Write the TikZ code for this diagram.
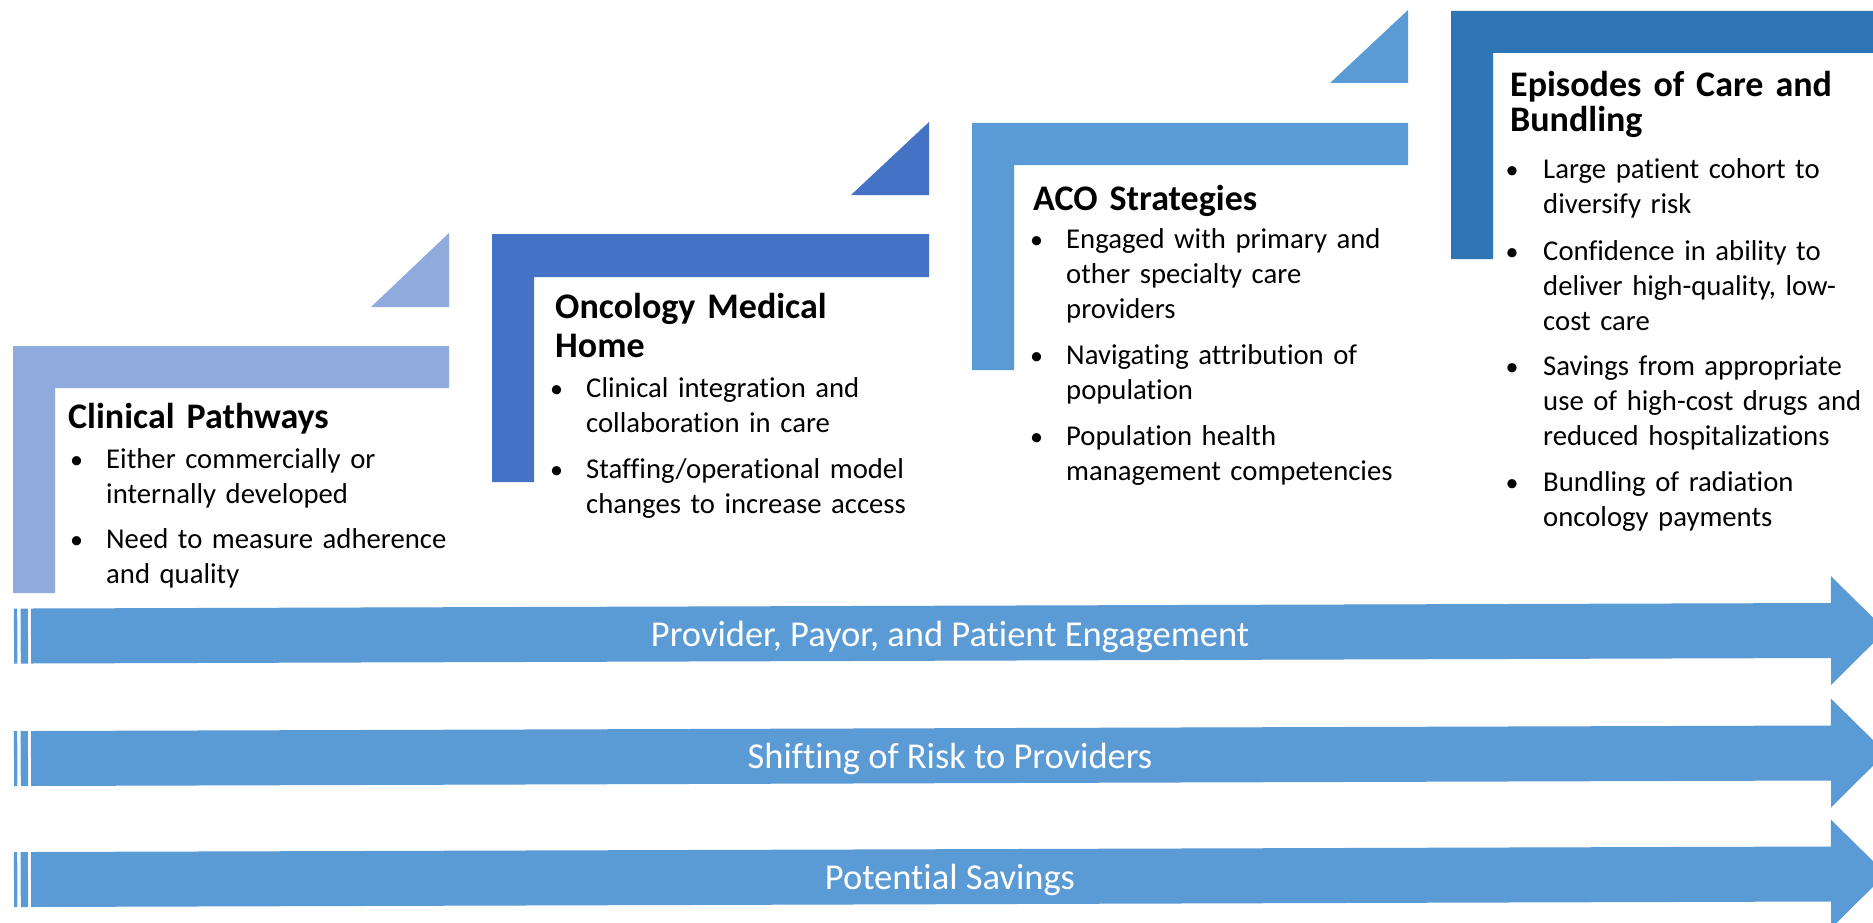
\documentclass[tikz,border=0pt]{standalone}
\usepackage{fontspec}
\setmainfont{Carlito}[Ligatures={NoCommon,NoContextual,NoRequired},Contextuals=NoAlternate]
\definecolor{cpath}{HTML}{8FAADC}
\definecolor{onco}{HTML}{4472C4}
\definecolor{aco}{HTML}{5B9BD5}
\definecolor{epis}{HTML}{2E75B6}
\definecolor{arr}{HTML}{5B9BD5}
\tikzset{
  body/.style={anchor=base west, inner sep=0pt, align=left, text width=420pt, font=\fontsize{28.7}{35}\selectfont},
  bul/.style={anchor=base, inner sep=0pt, font=\fontsize{26}{35}\selectfont},
  ttl/.style={anchor=base west, inner sep=0pt, align=left, text width=420pt, font=\fontsize{36}{39}\selectfont\bfseries},
  lab/.style={anchor=base, inner sep=0pt, text=white, font=\fontsize{36.5}{40}\selectfont},
}
\newcommand\myarrow[3]{%
  \begin{scope}[rotate around={0.175:(31,#1)}]
    \fill[arr] (14,#1-27.5) rectangle (17.3,#1+27.5);
    \fill[arr] (20.7,#1-27.5) rectangle (28,#1+27.5);
    \fill[arr] (31,#1-27.5) -- (1831,#1-27.5) -- (1831,#1-54.5) -- (1886,#1)
       -- (1831,#1+54.5) -- (1831,#1+27.5) -- (31,#1+27.5) -- cycle;
    \node[lab] (#2) at (950,#1+13) {#3};
  \end{scope}}
\begin{document}
\begin{tikzpicture}[x=1pt,y=-1pt]
\useasboundingbox (0,0) rectangle (1873,923);
\clip (0,0) rectangle (1873,923);
\fill[white] (0,0) rectangle (1873,923);

% Clinical Pathways
\fill[cpath] (13,346) -- (449,346) -- (449,388) -- (55,388) -- (55,593) -- (13,593) -- cycle;
\fill[cpath] (371,307) -- (449,307) -- (449,233) -- cycle;
\node[ttl] (t1) at (68,428) {Clinical Pathways};
\node[bul] (b11) at (76.5,468) {•};
\node[body] (i11) at (106,468) {Either commercially or\\internally developed};
\node[bul] (b12) at (76.5,548) {•};
\node[body] (i12) at (106,548) {Need to measure adherence\\and quality};

% Oncology Medical Home
\fill[onco] (492,234) -- (929,234) -- (929,277) -- (534,277) -- (534,482) -- (492,482) -- cycle;
\fill[onco] (851,195) -- (929,195) -- (929,122) -- cycle;
\node[ttl] (t2) at (555,318) {Oncology Medical\\Home};
\node[bul] (b21) at (556.5,397) {•};
\node[body] (i21) at (586,397) {Clinical integration and\\collaboration in care};
\node[bul] (b22) at (556.5,478) {•};
\node[body] (i22) at (586,478) {Staffing/operational model\\changes to increase access};

% ACO Strategies
\fill[aco] (972,123) -- (1408,123) -- (1408,165) -- (1014,165) -- (1014,370) -- (972,370) -- cycle;
\fill[aco] (1330,83) -- (1408,83) -- (1408,10) -- cycle;
\node[ttl] (t3) at (1033,210) {ACO Strategies};
\node[bul] (b31) at (1036.5,248) {•};
\node[body] (i31) at (1066,248) {Engaged with primary and\\other specialty care\\providers};
\node[bul] (b32) at (1036.5,364) {•};
\node[body] (i32) at (1066,364) {Navigating attribution of\\population};
\node[bul] (b33) at (1036.5,445) {•};
\node[body] (i33) at (1066,445) {Population health\\management competencies};

% Episodes of Care and Bundling
\fill[epis] (1451,11) -- (1900,11) -- (1900,53) -- (1493,53) -- (1493,259) -- (1451,259) -- cycle;
\node[ttl,font=\fontsize{36}{35}\selectfont\bfseries] (t4) at (1510,97) {Episodes of Care and\\Bundling};
\node[bul] (b41) at (1512,178) {•};
\node[body] (i41) at (1543,178) {Large patient cohort to\\diversify risk};
\node[bul] (b42) at (1512,260) {•};
\node[body] (i42) at (1543,260) {Confidence in ability to\\deliver high-quality, low-\\cost care};
\node[bul] (b43) at (1512,375) {•};
\node[body] (i43) at (1543,375) {Savings from appropriate\\use of high-cost drugs and\\reduced hospitalizations};
\node[bul] (b44) at (1512,491) {•};
\node[body] (i44) at (1543,491) {Bundling of radiation\\oncology payments};

% Arrows
\myarrow{636}{a1}{Provider, Payor, and Patient Engagement}
\myarrow{758.5}{a2}{Shifting of Risk to Providers}
\myarrow{879.5}{a3}{Potential Savings}
\end{tikzpicture}
\end{document}
